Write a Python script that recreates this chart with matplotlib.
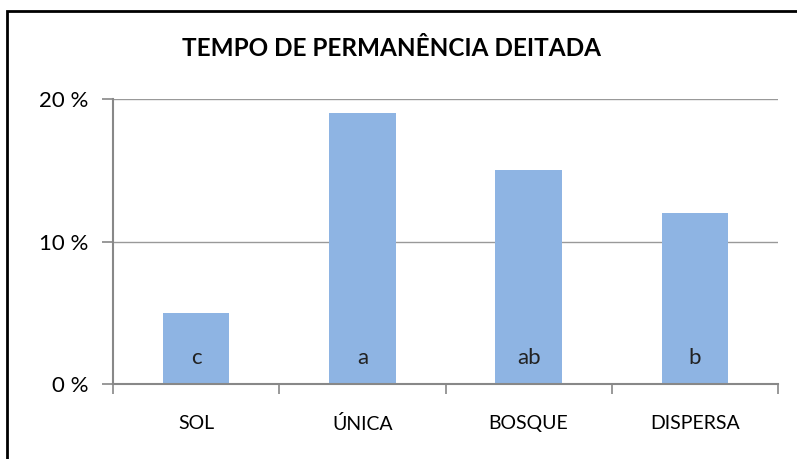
import numpy as np
import matplotlib
matplotlib.use('Agg')
import matplotlib.pyplot as plt
from matplotlib.patches import Rectangle

# Data
categorias = ['SOL', 'ÚNICA', 'BOSQUE', 'DISPERSA']
valores = [5, 19, 15, 12]
letras = ['c', 'a', 'ab', 'b']
yticks = [0, 10, 20]
ylabels = ['0 %', '10 %', '20 %']

plt.rcParams['font.family'] = ['Lato', 'DejaVu Sans']

fig = plt.figure(figsize=(7.97, 4.59), dpi=100)
ax = fig.add_axes([113 / 797, 1 - 384 / 459, 665 / 797, 285 / 459])

x = np.arange(len(categorias))
ax.bar(x, valores, width=0.4, color='#8eb4e3', zorder=2)

for xi, l in zip(x, letras):
    ax.text(xi, 1.8, l, ha='center', va='center', fontsize=16, color='#222222', zorder=3)

ax.set_xlim(-0.5, len(categorias) - 0.5)
ax.set_ylim(0, 20)
ax.set_yticks(yticks)
ax.set_yticklabels(ylabels, fontsize=16)
ax.set_xticks(x)
ax.set_xticklabels(categorias, fontsize=14)
ax.set_xticks(np.arange(len(categorias) + 1) - 0.5, minor=True)
ax.tick_params(axis='x', which='major', length=0, pad=22)
ax.tick_params(axis='x', which='minor', length=7, color='#888888', width=1.2)
ax.tick_params(axis='y', length=8, color='#888888', width=1.2, pad=10)

ax.grid(axis='y', color='#999999', linewidth=1, zorder=0)
for s in ['top', 'right']:
    ax.spines[s].set_visible(False)
for s in ['left', 'bottom']:
    ax.spines[s].set_color('#888888')
    ax.spines[s].set_linewidth(1.5)

fig.text(392 / 797, 1 - 48 / 459, 'TEMPO DE PERMANÊNCIA DEITADA', ha='center', va='center',
         fontsize=17.5, fontweight='bold')

# chart border
fig.patches.append(Rectangle((7 / 797, -0.05), 1.1, 1 - 11 / 459 + 0.05, transform=fig.transFigure,
                             fill=False, edgecolor='black', linewidth=2))

plt.savefig('out.png', dpi=100)
